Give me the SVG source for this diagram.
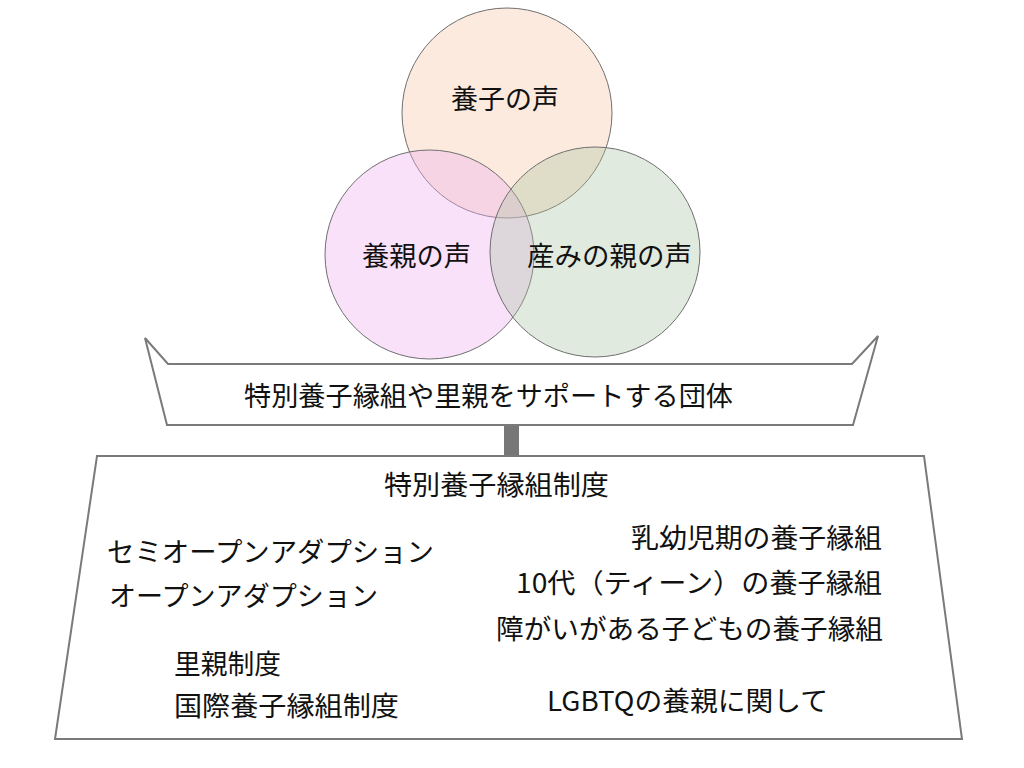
<svg xmlns="http://www.w3.org/2000/svg" width="1024" height="768" viewBox="0 0 1024 768">
<style>
.c{stroke:#6f6f6f;stroke-width:1}
.s{fill:#ffffff;stroke:#7a7a7a;stroke-width:2}
text{font-family:"Noto Sans CJK JP","Noto Sans",sans-serif;font-size:27px;fill:#111}
</style>
<rect width="1024" height="768" fill="#ffffff"/>
<g id="circle-kodomo">
<circle class="c" cx="507" cy="113" r="105" fill="#F8CBAD" fill-opacity="0.4"/>
</g>
<g id="circle-yoshin">
<circle class="c" cx="429.5" cy="254.5" r="104.5" fill="#F0B0F0" fill-opacity="0.38"/>
</g>
<g id="circle-umi">
<circle class="c" cx="595" cy="252" r="105" fill="#A9C4A0" fill-opacity="0.35"/>
</g>
<g id="labels-circles">
<text x="451" y="109" textLength="108" lengthAdjust="spacingAndGlyphs">養子の声</text>
<text x="362" y="266" textLength="109" lengthAdjust="spacingAndGlyphs">養親の声</text>
<text x="527" y="266" textLength="165" lengthAdjust="spacingAndGlyphs">産みの親の声</text>
</g>
<g id="connectors">
<rect x="504" y="425" width="15" height="32" fill="#777777"/>
</g>
<g id="banner">
<polygon class="s" points="145,338 168,364 852,364 878,336 853,425 167,425"/>
<text x="244" y="406" textLength="489" lengthAdjust="spacingAndGlyphs">特別養子縁組や里親をサポートする団体</text>
</g>
<g id="system">
<polygon class="s" points="97,456 924,456 962,739 55,739"/>
<text x="384" y="495" textLength="225" lengthAdjust="spacingAndGlyphs">特別養子縁組制度</text>
<text x="107" y="562" textLength="327" lengthAdjust="spacingAndGlyphs">セミオープンアダプション</text>
<text x="109" y="606" textLength="269" lengthAdjust="spacingAndGlyphs">オープンアダプション</text>
<text x="631" y="548" textLength="251" lengthAdjust="spacingAndGlyphs">乳幼児期の養子縁組</text>
<text x="516" y="593" textLength="366" lengthAdjust="spacingAndGlyphs">10代（ティーン）の養子縁組</text>
<text x="496" y="639" textLength="387" lengthAdjust="spacingAndGlyphs">障がいがある子どもの養子縁組</text>
<text x="174" y="674" textLength="107" lengthAdjust="spacingAndGlyphs">里親制度</text>
<text x="174" y="716" textLength="225" lengthAdjust="spacingAndGlyphs">国際養子縁組制度</text>
<text x="547" y="711" textLength="281" lengthAdjust="spacingAndGlyphs">LGBTQの養親に関して</text>
</g>
</svg>
